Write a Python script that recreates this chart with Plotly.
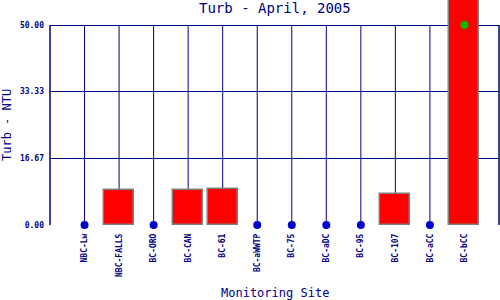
import plotly.graph_objects as go

sites = ["NBC-Lw", "NBC-FALLS", "BC-ORO", "BC-CAN", "BC-61", "BC-aWWTP",
         "BC-75", "BC-aDC", "BC-95", "BC-107", "BC-aCC", "BC-bCC"]
turb = [0, 8.7, 0, 8.7, 8.9, 0, 0, 0, 0, 7.7, 0, 62.0]
green_site = ["BC-bCC"]
green_val = [50.0]
y_ticks = [0.0, 16.67, 33.33, 50.0]
y_tick_text = ["0.00", "16.67", "33.33", "50.00"]
y_max = 50.0

NAVY = "#000080"
mono = "DejaVu Sans Mono"

xpos = list(range(1, len(sites) + 1))
bar_x = [x for x, v in zip(xpos, turb) if v > 0]
bar_y = [v for v in turb if v > 0]
dot_x = [x for x, v in zip(xpos, turb) if v == 0]
dot_y = [v for v in turb if v == 0]
green_x = [xpos[sites.index(s)] for s in green_site]

fig = go.Figure()
fig.add_trace(go.Bar(x=bar_x, y=bar_y, width=0.87,
                     marker=dict(color="#ff0000", line=dict(color="#808080", width=1.5)),
                     showlegend=False, hoverinfo="skip"))
fig.add_trace(go.Scatter(x=dot_x, y=dot_y, mode="markers",
                         marker=dict(color="#0000cc", size=8),
                         cliponaxis=False, showlegend=False))
fig.add_trace(go.Scatter(x=green_x, y=green_val, mode="markers",
                         marker=dict(color="#00bb00", size=8),
                         cliponaxis=False, showlegend=False))

shapes = []
for x in xpos:
    shapes.append(dict(type="line", xref="x", yref="y", x0=x, x1=x, y0=0, y1=y_max,
                       line=dict(color=NAVY, width=1), layer="below"))
for xp in (0, 1):
    shapes.append(dict(type="line", xref="paper", yref="y", x0=xp, x1=xp, y0=0, y1=y_max,
                       line=dict(color=NAVY, width=1.5), layer="below"))
fig.update_layout(shapes=shapes)

fig.update_layout(
    width=500, height=300,
    margin=dict(l=50, r=1, t=0, b=75),
    plot_bgcolor="white", paper_bgcolor="white",
    bargap=0,
    annotations=[
        dict(text="Turb - April, 2005", xref="paper", yref="paper", x=0.5, y=1,
             yanchor="top", xanchor="center", showarrow=False, yshift=2,
             font=dict(family=mono, size=14, color=NAVY)),
        dict(text="Monitoring Site", xref="paper", yref="paper", x=0.5, y=0,
             xanchor="center", yanchor="middle", yshift=-68, showarrow=False,
             font=dict(family=mono, size=12, color=NAVY)),
        dict(text="Turb - NTU", xref="paper", yref="y", x=0, y=y_max / 2,
             xanchor="center", yanchor="middle", xshift=-43, textangle=-90,
             showarrow=False, font=dict(family=mono, size=12, color=NAVY)),
    ],
)
fig.update_xaxes(
    range=[0, len(sites) + 1], tickvals=xpos, ticktext=sites, tickangle=-90,
    showgrid=False, zeroline=False, showline=False, ticks="",
    ticklabelstandoff=6,
    tickfont=dict(family=mono, size=8, color=NAVY, weight="bold"),
)
fig.update_yaxes(
    range=[0, 56.25], tickvals=y_ticks, ticktext=y_tick_text,
    showgrid=True, gridcolor=NAVY, gridwidth=1, zeroline=False, showline=False,
    ticks="", ticklen=0, ticklabelstandoff=5,
    tickfont=dict(family=mono, size=8, color=NAVY, weight="bold"),
)
fig.write_html("out.html")
